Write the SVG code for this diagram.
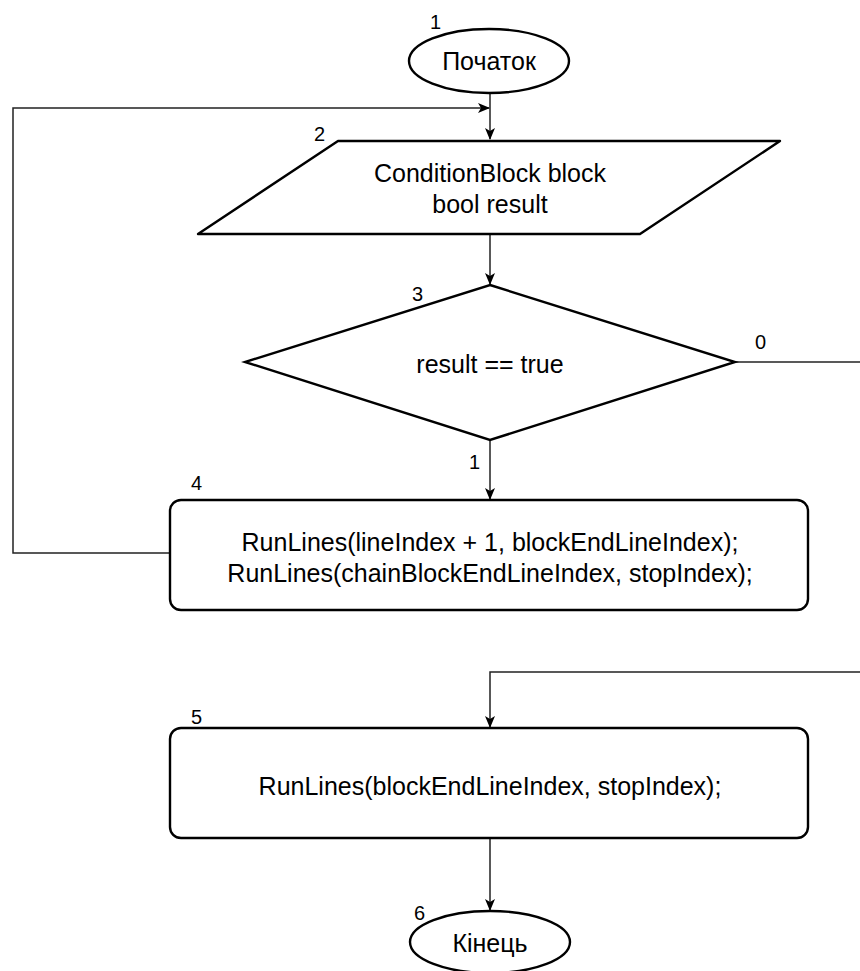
<svg xmlns="http://www.w3.org/2000/svg" width="860" height="971" viewBox="0 0 860 971">
  <style>
    .shape { fill: #ffffff; stroke: #000000; stroke-width: 2.4; }
    .conn { fill: none; stroke: #222222; stroke-width: 1.5; }
    .txt { font-family: "Liberation Sans", Arial, sans-serif; font-size: 25px; fill: #000000; text-anchor: middle; }
    .num { font-family: "Liberation Sans", Arial, sans-serif; font-size: 20px; fill: #000000; }
  </style>
  <defs>
    <marker id="arrow" viewBox="0 0 12 10" refX="11" refY="5" markerWidth="12" markerHeight="10" markerUnits="userSpaceOnUse" orient="auto">
      <path d="M0,0 L12,5 L0,10 L3,5 Z" fill="#000000"/>
    </marker>
  </defs>
  <rect width="860" height="971" fill="#ffffff"/>

  <!-- connectors -->
  <g id="connectors">
    <path class="conn" d="M490,93 L490,139" marker-end="url(#arrow)"/>
    <path class="conn" d="M170,553 L13,553 L13,108 L489,108" marker-end="url(#arrow)"/>
    <path class="conn" d="M490,234 L490,284" marker-end="url(#arrow)"/>
    <path class="conn" d="M490,440 L490,499" marker-end="url(#arrow)"/>
    <path class="conn" d="M735,362 L860,362"/>
    <path class="conn" d="M860,672 L490,672 L490,727" marker-end="url(#arrow)"/>
    <path class="conn" d="M490,838 L490,910" marker-end="url(#arrow)"/>
    <text class="num" x="755" y="349">0</text>
    <text class="num" x="469" y="469">1</text>
  </g>

  <!-- 1: start -->
  <g id="node-start">
    <ellipse class="shape" cx="489" cy="61" rx="80" ry="32"/>
    <text class="txt" x="489" y="70">Початок</text>
    <text class="num" x="430" y="29">1</text>
  </g>

  <!-- 2: input data -->
  <g id="node-input">
    <path class="shape" d="M338,141 L780,141 L640,234 L198,234 Z" stroke-linejoin="round"/>
    <text class="txt" x="490" y="182">ConditionBlock block</text>
    <text class="txt" x="490" y="213">bool result</text>
    <text class="num" x="314" y="141">2</text>
  </g>

  <!-- 3: condition -->
  <g id="node-condition">
    <path class="shape" d="M490,285 L735,362 L490,440 L245,362 Z"/>
    <text class="txt" x="490" y="373">result == true</text>
    <text class="num" x="412" y="301">3</text>
  </g>

  <!-- 4: run both ranges -->
  <g id="node-run-chain">
    <rect class="shape" x="170" y="500" width="638" height="110" rx="11" ry="11"/>
    <text class="txt" x="490" y="551">RunLines(lineIndex + 1, blockEndLineIndex);</text>
    <text class="txt" x="490" y="582"> RunLines(chainBlockEndLineIndex, stopIndex);</text>
    <text class="num" x="191" y="490">4</text>
  </g>

  <!-- 5: run remaining range -->
  <g id="node-run-rest">
    <rect class="shape" x="170" y="728" width="638" height="110" rx="11" ry="11"/>
    <text class="txt" x="490" y="795">RunLines(blockEndLineIndex, stopIndex);</text>
    <text class="num" x="191" y="724">5</text>
  </g>

  <!-- 6: end -->
  <g id="node-end">
    <ellipse class="shape" cx="490" cy="942" rx="80" ry="31"/>
    <text class="txt" x="490" y="952">Кінець</text>
    <text class="num" x="414" y="920">6</text>
  </g>
</svg>
